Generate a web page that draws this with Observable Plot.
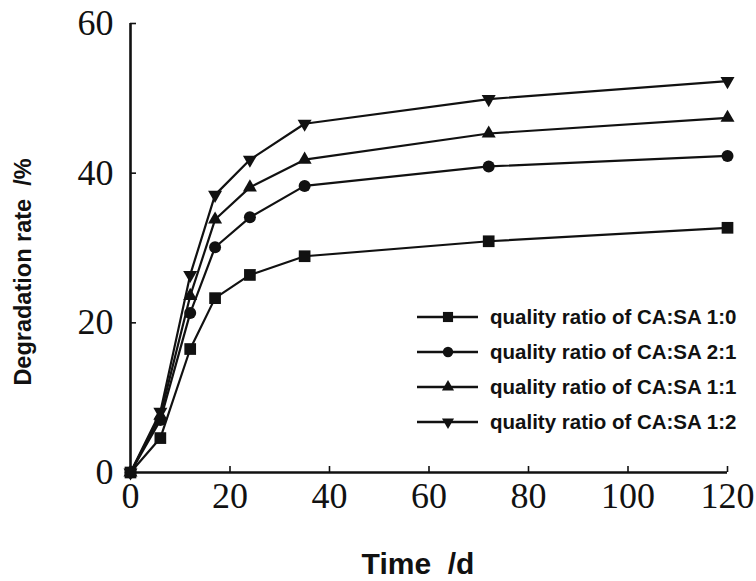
<!DOCTYPE html>
<html>
<head>
<meta charset="utf-8">
<script src="https://cdn.jsdelivr.net/npm/d3@7"></script>
<script src="https://cdn.jsdelivr.net/npm/@observablehq/plot@0.6"></script>
<style>
  html, body { margin: 0; padding: 0; background: #fff; }
  #chart { width: 756px; height: 581px; }
</style>
</head>
<body>
<div id="chart"></div>
<script>
const days = [0, 6, 12, 17, 24, 35, 72, 120];
const seriesNames = [
  "quality ratio of CA:SA 1:0",
  "quality ratio of CA:SA 2:1",
  "quality ratio of CA:SA 1:1",
  "quality ratio of CA:SA 1:2"
];
const ratio10 = [0, 4.6, 16.5, 23.3, 26.4, 28.9, 30.9, 32.7];
const ratio21 = [0, 7.0, 21.3, 30.1, 34.1, 38.3, 40.9, 42.3];
const ratio11 = [0, 7.6, 23.6, 33.8, 38.1, 41.8, 45.3, 47.4];
const ratio12 = [0, 8.1, 26.4, 37.1, 41.8, 46.6, 49.9, 52.3];
const xTicks = [0, 20, 40, 60, 80, 100, 120];
const yTicks = [0, 20, 40, 60];

const seriesValues = [ratio10, ratio21, ratio11, ratio12];
const symbols = ["square", "circle", "triangle", "triangle"];
const rotations = [0, 0, 0, 180];
const radii = [6.6, 6, 5.2, 5.2];

const data = [];
seriesNames.forEach((name, i) => {
  days.forEach((d, j) => data.push({series: name, idx: i, day: d, rate: seriesValues[i][j]}));
});

const ink = "#111";
const serif = "'Liberation Serif', 'DejaVu Serif', serif";
const sans = "'Liberation Sans', Arial, sans-serif";

const dotMarks = seriesNames.map((name, i) =>
  Plot.dot(data.filter(d => d.idx === i), {
    x: "day", y: "rate", symbol: () => symbols[i], r: radii[i],
    rotate: rotations[i], fill: ink, stroke: "none"
  })
);

const chart = Plot.plot({
  width: 756,
  height: 581,
  marginTop: 23,
  marginBottom: 109,
  marginLeft: 130,
  marginRight: 29,
  style: {background: "#fff", color: ink},
  x: {domain: [0, 120]},
  y: {domain: [0, 60]},
  symbol: {type: "identity"},
  marks: [
    Plot.axisX({ticks: xTicks, tickSize: -6, tickFormat: () => "", label: null, strokeWidth: 1.6}),
    Plot.axisX({ticks: xTicks, tickSize: 0, tickPadding: 10, fontSize: 36, fontFamily: serif, label: null}),
    Plot.axisY({ticks: yTicks, tickSize: -6, tickFormat: () => "", label: null, strokeWidth: 1.6}),
    Plot.axisY({ticks: yTicks, tickSize: 0, tickPadding: 17, fontSize: 36, fontFamily: serif, label: null}),
    Plot.ruleY([0], {stroke: ink, strokeWidth: 2.6}),
    Plot.ruleX([0], {stroke: ink, strokeWidth: 2.6}),
    Plot.line(data, {x: "day", y: "rate", z: "series", stroke: ink, strokeWidth: 2.2}),
    ...dotMarks,
    Plot.text(["Time  /d"], {frameAnchor: "bottom", textAnchor: "middle", lineAnchor: "middle", dx: -11, dy: 92, fontSize: 30, fontWeight: "bold", fontFamily: sans, fill: ink}),
    Plot.text(["Degradation rate  /%"], {frameAnchor: "left", textAnchor: "middle", lineAnchor: "middle", dx: -107, dy: 24, rotate: -90, fontSize: 23.5, fontWeight: "bold", fontFamily: sans, fill: ink})
  ]
});

// Legend drawn inside the plot area
const svg = d3.select(chart);
const legend = svg.append("g").attr("class", "legend");
const rowY = [317, 352, 387, 422];
const symbolTypes = [d3.symbolSquare, d3.symbolCircle, d3.symbolTriangle, d3.symbolTriangle];
seriesNames.forEach((name, i) => {
  const g = legend.append("g").attr("transform", `translate(0,${rowY[i]})`);
  g.append("line").attr("x1", 417).attr("x2", 478).attr("y1", 0).attr("y2", 0)
    .attr("stroke", ink).attr("stroke-width", 2.6);
  const size = radii[i] * radii[i] * Math.PI * 0.75;
  g.append("path").attr("d", d3.symbol(symbolTypes[i], size)())
    .attr("transform", `translate(448,0) rotate(${rotations[i]})`).attr("fill", ink);
  g.append("text").attr("x", 490).attr("y", 0).attr("dy", "0.35em")
    .attr("text-anchor", "start")
    .attr("font-family", sans).attr("font-weight", "bold").attr("font-size", 20.5)
    .attr("fill", ink).text(name);
});

document.getElementById("chart").appendChild(chart);
</script>
</body>
</html>
